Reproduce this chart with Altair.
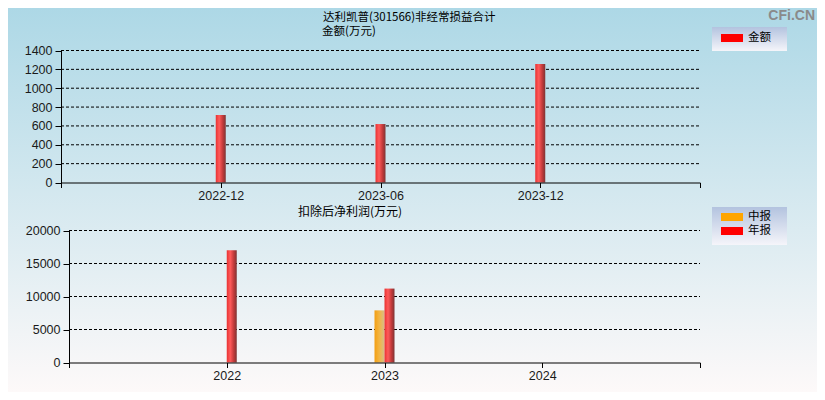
import json
import altair as alt
import pandas as pd

# ---------------- data ----------------
title_main = "达利凯普(301566)非经常损益合计"
title_top_unit = "金额(万元)"
title_bottom = "扣除后净利润(万元)"
watermark = "CFi.CN"

top_periods = ["2022-12", "2023-06", "2023-12"]
top_values = [716, 620, 1258]
top_series = ["金额"]
top_yticks = [0, 200, 400, 600, 800, 1000, 1200, 1400]

bottom_years = ["2022", "2023", "2024"]
bottom_series = ["中报", "年报"]
bottom_mid = [None, 7900, None]
bottom_annual = [17000, 11200, None]
bottom_yticks = [0, 5000, 10000, 15000, 20000]

# ---------------- styles ----------------
W, H = 809, 384
LABEL_FONT = "Liberation Sans"
CJK_FONT = "Noto Sans CJK SC"
RED = "#ff0000"
ORANGE = "#ffa500"

red_grad = alt.Gradient(
    gradient="linear", x1=0, x2=1, y1=0, y2=0,
    stops=[alt.GradientStop(color="#e83232", offset=0),
           alt.GradientStop(color="#ff5a5a", offset=0.35),
           alt.GradientStop(color="#c23a3a", offset=0.7),
           alt.GradientStop(color="#7e3434", offset=1)])
orange_grad = alt.Gradient(
    gradient="linear", x1=0, x2=1, y1=0, y2=0,
    stops=[alt.GradientStop(color="#f29e12", offset=0),
           alt.GradientStop(color="#f3b440", offset=0.45),
           alt.GradientStop(color="#d8bd88", offset=1)])
bg_grad = alt.Gradient(
    gradient="linear", x1=0, x2=0, y1=0, y2=1,
    stops=[alt.GradientStop(color="#add8e6", offset=0),
           alt.GradientStop(color="#fdf9f9", offset=1)])
legend_grad = alt.Gradient(
    gradient="linear", x1=0, x2=0, y1=0, y2=1,
    stops=[alt.GradientStop(color="#b3c3df", offset=0),
           alt.GradientStop(color="#f5f5fa", offset=1)])

one = alt.Data(values=[{}])

# ---------------- background ----------------
bg = alt.Chart(one).mark_rect(fill=bg_grad).encode(
    x=alt.value(0), x2=alt.value(W), y=alt.value(0), y2=alt.value(H))

# ---------------- top panel ----------------
n_top = len(top_periods) + 1
xs_top = alt.Scale(domain=[0, n_top], range=[53, 692], nice=False, zero=False, padding=0)
ys_top = alt.Scale(domain=[top_yticks[0], top_yticks[-1]], range=[174.5, 42.5], nice=False, padding=0)
top_labels = [""] + top_periods + [""]

top_df = pd.DataFrame({"pos": list(range(1, len(top_periods) + 1)),
                       "period": top_periods, "value": top_values})
top_grid_df = pd.DataFrame({"v": top_yticks[1:], "x0": 0, "x1": n_top})

x_axis_common = dict(tickSize=5, labelPadding=2, labelFont=LABEL_FONT, labelFontSize=12.5,
                     labelColor="#1a1a1a", domainColor="#000000", tickColor="#000000",
                     labelFlush=False, grid=False, title=None, orient="bottom", zindex=2)
y_axis_common = dict(tickSize=6, labelPadding=3, labelFont=LABEL_FONT, labelFontSize=12.5,
                     labelColor="#1a1a1a", domainColor="#000000", tickColor="#000000",
                     labelFlush=False, grid=False, title=None, orient="left", zindex=2,
                     format="d")

top_grid = alt.Chart(top_grid_df).mark_rule(stroke="#000000", strokeDash=[3, 2], strokeWidth=1).encode(
    x=alt.X("x0:Q", scale=xs_top, axis=None), x2="x1:Q",
    y=alt.Y("v:Q", scale=ys_top, axis=None))

top_bars = alt.Chart(top_df).mark_bar(width=10, fill=red_grad).encode(
    x=alt.X("pos:Q", scale=xs_top,
            axis=alt.Axis(values=list(range(0, n_top + 1)),
                          labelExpr=json.dumps(top_labels, ensure_ascii=False) + "[datum.value] || ''",
                          offset=-(H - 174.5), **x_axis_common)),
    y=alt.Y("value:Q", scale=ys_top,
            axis=alt.Axis(values=top_yticks, offset=-53, **y_axis_common)))

# ---------------- bottom panel ----------------
n_bot = len(bottom_years) + 1
xs_bot = alt.Scale(domain=[0, n_bot], range=[61, 692], nice=False, zero=False, padding=0)
ys_bot = alt.Scale(domain=[bottom_yticks[0], bottom_yticks[-1]], range=[354.5, 222.5], nice=False, padding=0)
bot_labels = [""] + bottom_years + [""]

mid_df = pd.DataFrame({"pos": [i + 1 for i, v in enumerate(bottom_mid) if v is not None],
                       "value": [v for v in bottom_mid if v is not None]})
ann_df = pd.DataFrame({"pos": [i + 1 for i, v in enumerate(bottom_annual) if v is not None],
                       "value": [v for v in bottom_annual if v is not None]})
bot_grid_df = pd.DataFrame({"v": bottom_yticks[1:], "x0": 0, "x1": n_bot})

bot_grid = alt.Chart(bot_grid_df).mark_rule(stroke="#000000", strokeDash=[3, 2], strokeWidth=1).encode(
    x=alt.X("x0:Q", scale=xs_bot, axis=None), x2="x1:Q",
    y=alt.Y("v:Q", scale=ys_bot, axis=None))

mid_bars = alt.Chart(mid_df).mark_bar(width=10, xOffset=-5, fill=orange_grad).encode(
    x=alt.X("pos:Q", scale=xs_bot, axis=None),
    y=alt.Y("value:Q", scale=ys_bot, axis=None))

ann_bars = alt.Chart(ann_df).mark_bar(width=10, xOffset=5, fill=red_grad).encode(
    x=alt.X("pos:Q", scale=xs_bot,
            axis=alt.Axis(values=list(range(0, n_bot + 1)),
                          labelExpr=json.dumps(bot_labels, ensure_ascii=False) + "[datum.value] || ''",
                          offset=-(H - 354.5), **x_axis_common)),
    y=alt.Y("value:Q", scale=ys_bot,
            axis=alt.Axis(values=bottom_yticks, offset=-61, **y_axis_common)))

# ---------------- titles ----------------
def text_layer(txt, x, y, align="left", size=12, font=CJK_FONT, color="#000000", weight="normal"):
    return alt.Chart(alt.Data(values=[{"t": txt}])).mark_text(
        align=align, baseline="middle", font=font, fontSize=size, color=color, fontWeight=weight
    ).encode(x=alt.value(x), y=alt.value(y), text="t:N")

titles = [
    text_layer(title_main, 315, 9.5, size=11.5),
    text_layer(title_top_unit, 314, 23.5, size=11.5),
    text_layer(title_bottom, 290, 204),
    text_layer(watermark, 807, 8, align="right", size=14, font=LABEL_FONT,
               color="#8a8a8a", weight="bold"),
]

# ---------------- legends ----------------
def legend_box(x0, y0, x1, y1):
    return alt.Chart(one).mark_rect(fill=legend_grad).encode(
        x=alt.value(x0), x2=alt.value(x1), y=alt.value(y0), y2=alt.value(y1))

def legend_entry(name, color, yc):
    sw = alt.Chart(one).mark_rect(fill=color).encode(
        x=alt.value(713), x2=alt.value(735), y=alt.value(yc - 4), y2=alt.value(yc + 4))
    return [sw, text_layer(name, 740, yc, size=11.5)]

legends = [legend_box(704, 19, 779, 43)]
legends += legend_entry(top_series[0], RED, 30)
legends += [legend_box(704, 199, 779, 237)]
for i, (name, col) in enumerate(zip(bottom_series, [ORANGE, RED])):
    legends += legend_entry(name, col, 209 + 14 * i)

chart = alt.layer(
    bg, top_grid, top_bars, bot_grid, mid_bars, ann_bars, *titles, *legends
).resolve_scale(x="independent", y="independent").resolve_axis(
    x="independent", y="independent"
).properties(
    width=W, height=H,
    autosize=alt.AutoSizeParams(type="none"),
    padding={"left": 0, "top": 0, "right": 0, "bottom": 0},
).configure_view(stroke=None)

chart.save("out.html", embed_options={"renderer": "svg", "actions": False})
